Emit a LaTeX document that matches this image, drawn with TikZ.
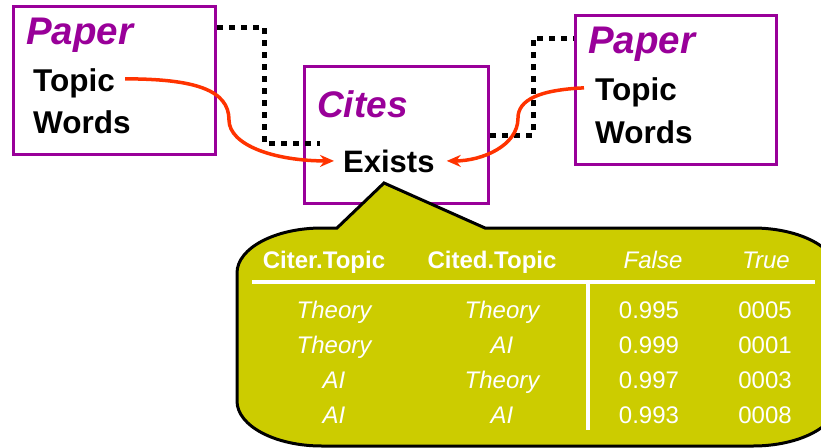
\documentclass[tikz,border=0pt]{standalone}
\usepackage{fontspec}
\setmainfont{Liberation Sans}
\usetikzlibrary{arrows.meta}

\definecolor{plum}{HTML}{990099}
\definecolor{redorange}{HTML}{FF3300}
\definecolor{cpdyellow}{HTML}{CCCC00}

\tikzset{
box/.style={draw=plum,line width=3pt,fill=white,inner sep=0pt},
title/.style={anchor=base west,inner sep=0pt,text=plum,font=\fontsize{38.5}{40}\selectfont\bfseries\itshape},
attr/.style={anchor=base west,inner sep=0pt,font=\fontsize{31.5}{34}\selectfont\bfseries},
link/.style={line width=5pt,dash pattern=on 6pt off 6pt},
rel/.style={draw=redorange,line width=3.5pt,-{Stealth[length=14pt,width=12pt]}},
cell/.style={anchor=base,inner sep=0pt,text=white,font=\fontsize{24}{26}\selectfont}
}

\begin{document}
\begin{tikzpicture}[x=1pt,y=-1pt]
\useasboundingbox(0,0)rectangle(821,447);
\clip(0,0)rectangle(821,447);

% the three classes
\node[box,minimum width=202pt,minimum height=148pt](paperL)at(114.5,80.5){};
\node[box,minimum width=184pt,minimum height=137pt](cites)at(396.5,135){};
\node[box,minimum width=201pt,minimum height=149pt](paperR)at(676,90){};

\node[title](paperLname)at(26,44){Paper};
\node[attr](topicL)at(33,91){Topic};
\node[attr](wordsL)at(33,133){Words};
\node[title,font=\fontsize{37}{40}\selectfont\bfseries\itshape](citesname)at(317,117){Cites};
\node[attr,font=\fontsize{31}{34}\selectfont\bfseries](exists)at(343,172){Exists};
\node[title](paperRname)at(588,53){Paper};
\node[attr](topicR)at(595,100){Topic};
\node[attr](wordsR)at(595,143){Words};

% slot chains
\coordinate(jogL)at(264,143);
\coordinate(jogR)at(533,135);
\draw[link]([yshift=-22pt]paperL.north east)-|(jogL)--([xshift=17pt,yshift=-8pt]cites.west);
\draw[link](cites.east)--(jogR)|-([yshift=-24pt]paperR.north west);

% parents of Exists
\coordinate(bendL)at(229,120);
\coordinate(bendR)at(518,118);
\draw[rel]([xshift=10pt,yshift=4pt]topicL.east)..controls+(70,0)and+(0,-30)..(bendL)
 ..controls+(0,25)and+(-60,0)..([xshift=-9pt]exists.west);
\draw[rel]([xshift=-11pt,yshift=4pt]topicR.west)..controls+(-45,2)and+(0,-18)..(bendR)
 ..controls+(0,28)and+(35,0)..([xshift=12pt]exists.east);

% CPD callout
\draw[fill=cpdyellow,line width=3pt,line join=miter](485,228)--(753,228)
 arc[start angle=270,end angle=360,x radius=85,y radius=45]--(838,401)
 arc[start angle=0,end angle=90,x radius=85,y radius=45]--(322,446)
 arc[start angle=90,end angle=180,x radius=85,y radius=45]--(237,273)
 arc[start angle=180,end angle=270,x radius=85,y radius=45]--(337,228)--(384,183)--cycle;

\node[cell,font=\fontsize{24}{26}\selectfont\bfseries](hciter)at(324,268){Citer.Topic};
\node[cell,font=\fontsize{24}{26}\selectfont\bfseries](hcited)at(492,268){Cited.Topic};
\node[cell,font=\fontsize{24}{26}\selectfont\itshape](hfalse)at(653,268){False};
\node[cell,font=\fontsize{24}{26}\selectfont\itshape](htrue)at(766,268){True};
\draw[white,line width=3.5pt](252,282)--(815,282);
\draw[white,line width=3.5pt](588,283)--(588,430);

\foreach \a/\b/\f/\t [count=\i] in {Theory/Theory/0.995/0005,Theory/AI/0.999/0001,
 AI/Theory/0.997/0003,AI/AI/0.993/0008}{
 \node[cell,font=\fontsize{24}{26}\selectfont\itshape](citer\i)at(334,283+35*\i){\a};
 \node[cell,font=\fontsize{24}{26}\selectfont\itshape](cited\i)at(502,283+35*\i){\b};
 \node[cell](pfalse\i)at(649,283+35*\i){\f};
 \node[cell](ptrue\i)at(765,283+35*\i){\t};
}
\end{tikzpicture}
\end{document}
